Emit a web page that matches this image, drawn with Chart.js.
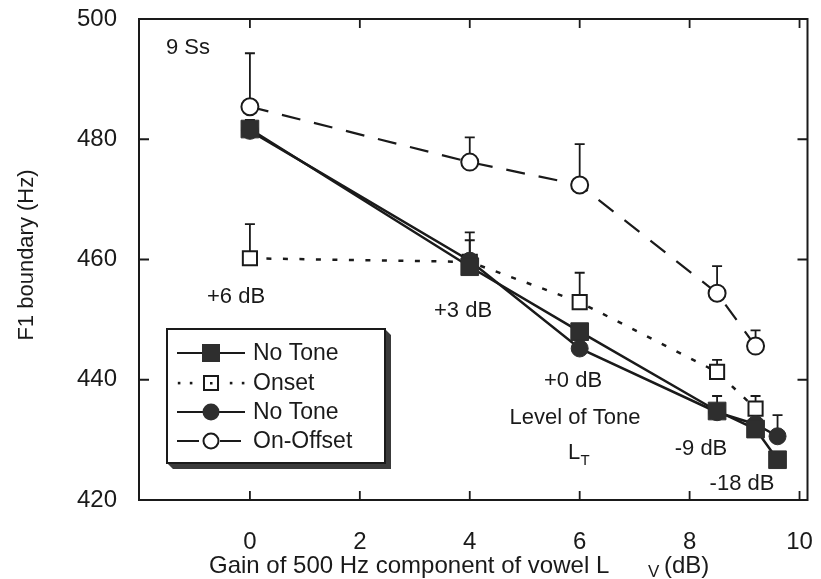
<!DOCTYPE html>
<html><head><meta charset="utf-8">
<script src="https://cdn.jsdelivr.net/npm/chart.js@4.4.0/dist/chart.umd.min.js"></script>
<style>html,body{margin:0;padding:0;background:#fff}#wrap{width:821px;height:579px;position:relative}</style>
</head><body><div id="wrap"><canvas id="c" width="821" height="579"></canvas></div>
<script>
// ---- data ----
const gainX = [0, 4, 6, 8.5, 9.2, 9.6];
const noToneSquare = [481.7, 458.8, 448.0, 434.8, 431.8, 426.7];
const noToneCircle = [481.4, 459.8, 445.2, 434.6, 432.6, 430.6];
const onsetX = [0, 4, 6, 8.5, 9.2];
const onset = [460.2, 459.6, 452.9, 441.3, 435.2];
const onOffsetX = [0, 4, 6, 8.5, 9.2];
const onOffset = [485.4, 476.2, 472.4, 454.4, 445.6];
// upper error-bar ends (null = not visible)
const noToneSquareErr = [483.2, 464.5, null, 437.3, null, null];
const noToneCircleErr = [null, null, null, null, null, 434.1];
const onsetErr = [465.9, 463.2, 457.8, 443.3, 437.3];
const onOffsetErr = [494.3, 480.3, 479.2, 458.9, 448.2];
const xTicks = [0, 2, 4, 6, 8, 10];
const yTicks = [420, 440, 460, 480, 500];
const seriesNames = ['No Tone', 'Onset', 'No Tone', 'On-Offset'];
const toneLevels = ['+6 dB', '+3 dB', '+0 dB', '-9 dB', '-18 dB'];
const subjectsLabel = '9 Ss';
const yTitle = 'F1 boundary (Hz)';
const xTitleMain = 'Gain of 500 Hz component of vowel L';
const xTitleSub = 'V';
const xTitleUnit = '(dB)';

const FONT = '"Liberation Sans", Arial, Helvetica, sans-serif';
const INK = '#1a1a1a';
const FILL = '#2e2e2e';

function pts(xs, ys) { return xs.map((x, i) => ({x, y: ys[i]})); }

const datasets = [
  { label: seriesNames[0], data: pts(gainX, noToneSquare), err: noToneSquareErr,
    showLine: true, borderColor: INK, borderWidth: 2.5, pointStyle: 'rect', pointRadius: 12.5,
    pointBackgroundColor: FILL, pointBorderColor: FILL, pointBorderWidth: 1 },
  { label: seriesNames[2], data: pts(gainX, noToneCircle), err: noToneCircleErr,
    showLine: true, borderColor: INK, borderWidth: 2.5, pointStyle: 'circle', pointRadius: 8.5,
    pointBackgroundColor: FILL, pointBorderColor: FILL, pointBorderWidth: 1 },
  { label: seriesNames[1], data: pts(onsetX, onset), err: onsetErr,
    showLine: true, borderColor: INK, borderWidth: 2.5, borderDash: [5, 11.5], pointStyle: 'rect', pointRadius: 10,
    pointBackgroundColor: '#fff', pointBorderColor: INK, pointBorderWidth: 2 },
  { label: seriesNames[3], data: pts(onOffsetX, onOffset), err: onOffsetErr,
    showLine: true, borderColor: INK, borderWidth: 2.2, borderDash: [19, 14], pointStyle: 'circle', pointRadius: 8.5,
    pointBackgroundColor: '#fff', pointBorderColor: INK, pointBorderWidth: 2 }
];

const errorBars = {
  id: 'errorBars',
  beforeDatasetsDraw(chart) {
    const ctx = chart.ctx, xs = chart.scales.x, ys = chart.scales.y;
    ctx.save();
    ctx.strokeStyle = INK; ctx.lineWidth = 1.8; ctx.setLineDash([]);
    chart.data.datasets.forEach(ds => {
      ds.data.forEach((p, i) => {
        const e = ds.err[i];
        if (e == null) return;
        const px = xs.getPixelForValue(p.x), py = ys.getPixelForValue(p.y), pe = ys.getPixelForValue(e);
        ctx.beginPath();
        ctx.moveTo(px, py); ctx.lineTo(px, pe);
        ctx.moveTo(px - 5, pe); ctx.lineTo(px + 5, pe);
        ctx.stroke();
      });
    });
    ctx.restore();
  }
};

function drawMarker(ctx, kind, x, y) {
  ctx.setLineDash([]);
  if (kind === 'sq') { ctx.fillStyle = FILL; ctx.fillRect(x - 9, y - 9, 18, 18); }
  else if (kind === 'osq') { ctx.fillStyle = '#fff'; ctx.fillRect(x - 7, y - 7, 14, 14); ctx.lineWidth = 2; ctx.strokeStyle = INK; ctx.strokeRect(x - 7, y - 7, 14, 14); ctx.fillStyle = INK; ctx.fillRect(x - 1, y - 1, 2.5, 2.5); }
  else if (kind === 'ci') { ctx.fillStyle = FILL; ctx.beginPath(); ctx.arc(x, y, 8.5, 0, Math.PI * 2); ctx.fill(); }
  else { ctx.fillStyle = '#fff'; ctx.beginPath(); ctx.arc(x, y, 7.5, 0, Math.PI * 2); ctx.fill(); ctx.lineWidth = 2; ctx.strokeStyle = INK; ctx.stroke(); }
}

const decor = {
  id: 'decor',
  afterDraw(chart) {
    const ctx = chart.ctx, a = chart.chartArea, xs = chart.scales.x, ys = chart.scales.y;
    ctx.save();
    // frame
    ctx.strokeStyle = INK; ctx.lineWidth = 2; ctx.setLineDash([]);
    ctx.strokeRect(a.left, a.top, a.right - a.left, a.bottom - a.top);
    // inward ticks
    ctx.lineWidth = 1.8;
    ctx.beginPath();
    xTicks.forEach(v => { const px = xs.getPixelForValue(v);
      ctx.moveTo(px, a.bottom); ctx.lineTo(px, a.bottom - 9);
      ctx.moveTo(px, a.top); ctx.lineTo(px, a.top + 9); });
    yTicks.forEach(v => { const py = ys.getPixelForValue(v);
      ctx.moveTo(a.left, py); ctx.lineTo(a.left + 10, py);
      ctx.moveTo(a.right, py); ctx.lineTo(a.right - 10, py); });
    ctx.stroke();

    // axis titles
    ctx.fillStyle = INK; ctx.textBaseline = 'middle';
    ctx.font = '24px ' + FONT; ctx.textAlign = 'left';
    ctx.fillText(xTitleMain, 209, 566);
    ctx.font = '17px ' + FONT;
    ctx.fillText(xTitleSub, 648, 572);
    ctx.font = '24px ' + FONT;
    ctx.fillText(xTitleUnit, 664, 566);
    ctx.font = '22px ' + FONT;
    ctx.save(); ctx.translate(27, 255); ctx.rotate(-Math.PI / 2);
    ctx.textAlign = 'center'; ctx.fillText(yTitle, 0, 0); ctx.restore();

    // annotations
    ctx.font = '22px ' + FONT; ctx.textAlign = 'center';
    ctx.fillText(subjectsLabel, 188, 48);
    const levelPos = [[236, 297], [463, 311], [573, 381], [701, 449], [742, 484]];
    toneLevels.forEach((t, i) => ctx.fillText(t, levelPos[i][0], levelPos[i][1]));
    ctx.fillText('Level of Tone', 575, 418);
    ctx.fillText('L', 574, 453);
    ctx.font = '15px ' + FONT; ctx.fillText('T', 585, 461);

    // legend box with shadow
    const L = 167, T = 329, R = 385, B = 463, s = 6;
    ctx.fillStyle = '#3a3a3a';
    ctx.beginPath();
    ctx.moveTo(R, T); ctx.lineTo(R + s, T + s); ctx.lineTo(R + s, B + s); ctx.lineTo(L + s, B + s); ctx.lineTo(L, B); ctx.lineTo(R, B); ctx.closePath();
    ctx.fill();
    ctx.fillStyle = '#fff'; ctx.fillRect(L, T, R - L, B - T);
    ctx.lineWidth = 2; ctx.strokeStyle = INK; ctx.strokeRect(L, T, R - L, B - T);
    const rows = [353, 383, 412, 441];
    const kinds = ['sq', 'osq', 'ci', 'oc'];
    rows.forEach((y, i) => {
      ctx.strokeStyle = INK; ctx.lineWidth = 2;
      if (kinds[i] === 'osq') {
        ctx.fillStyle = INK;
        [179, 191, 231, 243].forEach(x => ctx.fillRect(x - 1.2, y - 1.2, 2.6, 2.6));
      } else if (kinds[i] === 'oc') {
        ctx.beginPath(); ctx.moveTo(177, y); ctx.lineTo(199, y); ctx.moveTo(220, y); ctx.lineTo(241, y); ctx.stroke();
      } else {
        ctx.beginPath(); ctx.moveTo(177, y); ctx.lineTo(245, y); ctx.stroke();
      }
      drawMarker(ctx, kinds[i], 211, y);
      ctx.fillStyle = INK; ctx.font = '23px ' + FONT; ctx.textAlign = 'left'; ctx.textBaseline = 'middle';
      ctx.fillText(seriesNames[i], 253, y + 1);
    });
    ctx.restore();
  }
};

function noPad(s) { s.paddingTop = 0; s.paddingBottom = 0; s.paddingLeft = 0; s.paddingRight = 0; }

new Chart(document.getElementById('c'), {
  type: 'scatter',
  data: { datasets },
  options: {
    responsive: false, animation: false,
    layout: { padding: { top: 19, right: 13, left: 0, bottom: 0 } },
    plugins: { legend: { display: false }, tooltip: { enabled: false } },
    scales: {
      x: { type: 'linear', min: -2.018, max: 10.145,
        afterBuildTicks(s) { s.ticks = xTicks.map(v => ({ value: v })); },
        afterFit(s) { s.height = 79; noPad(s); },
        grid: { display: false, drawTicks: false }, border: { display: false },
        ticks: { color: INK, font: { size: 24, family: FONT }, padding: 28, maxRotation: 0 } },
      y: { type: 'linear', min: 420, max: 500,
        afterBuildTicks(s) { s.ticks = yTicks.map(v => ({ value: v })); },
        afterFit(s) { s.width = 139; noPad(s); },
        grid: { display: false, drawTicks: false }, border: { display: false },
        ticks: { color: INK, font: { size: 24, family: FONT }, padding: 22 } }
    }
  },
  plugins: [errorBars, decor]
});
</script></body></html>
